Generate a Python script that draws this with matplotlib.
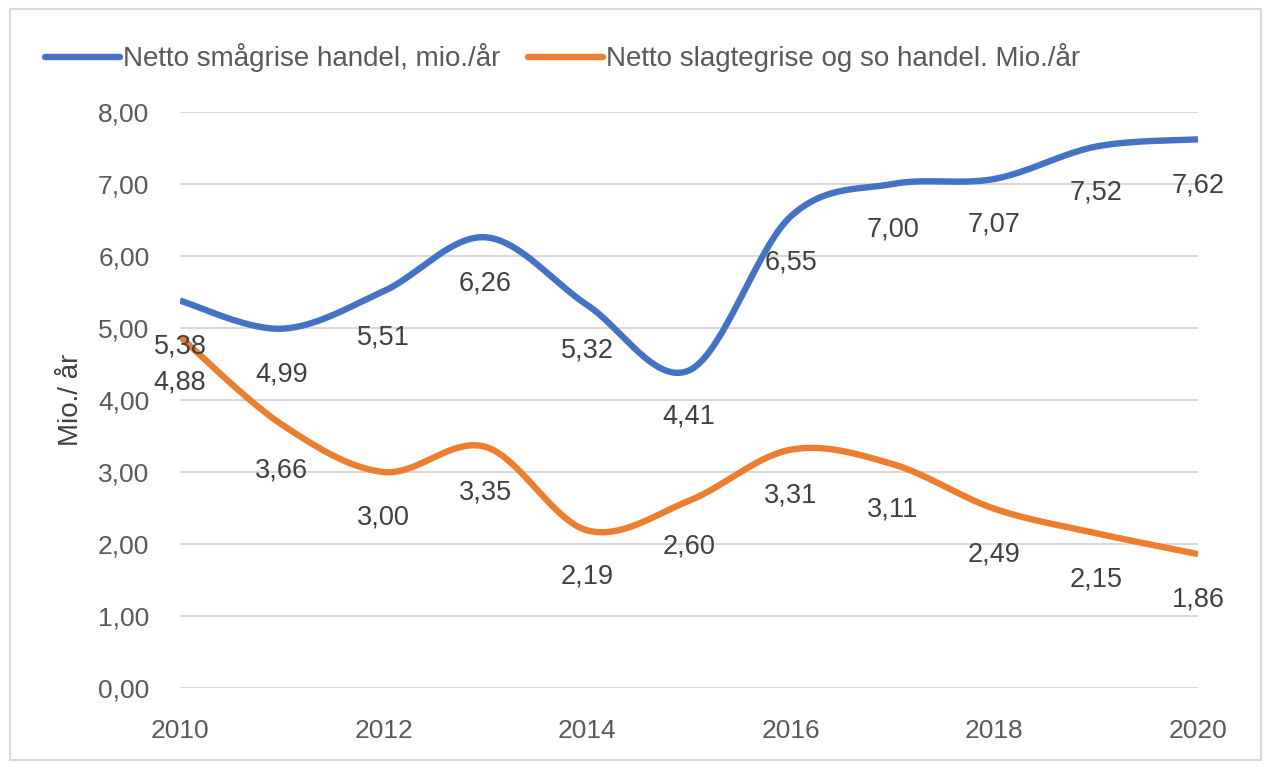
import numpy as np
import matplotlib.pyplot as plt
from matplotlib.patches import Rectangle
from matplotlib.ticker import FuncFormatter

plt.rcParams['font.family'] = ['Liberation Sans', 'DejaVu Sans']

years = [2010, 2011, 2012, 2013, 2014, 2015, 2016, 2017, 2018, 2019, 2020]
smaagrise = [5.38, 4.99, 5.51, 6.26, 5.32, 4.41, 6.55, 7.00, 7.07, 7.52, 7.62]
slagtegrise = [4.88, 3.66, 3.00, 3.35, 2.19, 2.60, 3.31, 3.11, 2.49, 2.15, 1.86]
names = ['Netto smågrise handel, mio./år', 'Netto slagtegrise og so handel. Mio./år']
colors = ['#4472C4', '#ED7D31']


def smooth(x, y, n=40):
    # excel style smoothing: bezier segments with catmull-rom control points
    x = np.asarray(x, float)
    y = np.asarray(y, float)
    px = np.concatenate([[x[0]], x, [x[-1]]])
    py = np.concatenate([[y[0]], y, [y[-1]]])
    xs, ys = [], []
    t = np.linspace(0, 1, n)
    for i in range(1, len(px) - 2):
        p0 = np.array([px[i], py[i]])
        p3 = np.array([px[i + 1], py[i + 1]])
        p1 = p0 + (p3 - np.array([px[i - 1], py[i - 1]])) / 6
        p2 = p3 - (np.array([px[i + 2], py[i + 2]]) - p0) / 6
        b = ((1 - t) ** 3)[:, None] * p0 + (3 * (1 - t) ** 2 * t)[:, None] * p1 \
            + (3 * (1 - t) * t ** 2)[:, None] * p2 + (t ** 3)[:, None] * p3
        xs.extend(b[:, 0])
        ys.extend(b[:, 1])
    return xs, ys


fig = plt.figure(figsize=(12.69, 7.66), dpi=100)
ax = fig.add_axes([0.1418, 0.1018, 0.8022, 0.752])

for vals, name, c in zip([smaagrise, slagtegrise], names, colors):
    sx, sy = smooth(years, vals)
    ax.plot(sx, sy, color=c, lw=4.6, solid_capstyle='butt', label=name)
    for xv, yv in zip(years, vals):
        ax.annotate(f'{yv:.2f}'.replace('.', ','), (xv, yv), xytext=(0, -33),
                    textcoords='offset points', ha='center', va='center',
                    fontsize=19.5, color='#404040')

ax.set_xlim(2010, 2020)
ax.set_ylim(0, 8)
ax.set_xticks(range(2010, 2021, 2))
ax.set_yticks(range(0, 9))
ax.yaxis.set_major_formatter(FuncFormatter(lambda v, p: f'{v:.2f}'.replace('.', ',')))
ax.grid(axis='y', color='#D9D9D9', lw=1.5)
ax.set_axisbelow(True)
for s in ax.spines.values():
    s.set_visible(False)
ax.tick_params(length=0, labelsize=19, labelcolor='#595959')
ax.tick_params(axis='y', pad=22)
ax.tick_params(axis='x', pad=22)
ax.set_ylabel('Mio./ år', fontsize=20, color='#404040', labelpad=10)

leg = fig.legend(*ax.get_legend_handles_labels(), loc='center left',
                 bbox_to_anchor=(45 / 1269, 1 - 58 / 766), bbox_transform=fig.transFigure,
                 ncol=2, frameon=False, fontsize=20, labelcolor='#595959',
                 handlelength=2.7, handletextpad=0.1, columnspacing=1.0,
                 borderpad=0, borderaxespad=0)
for h in leg.get_lines():
    h.set_solid_capstyle('round')

fig.patches.append(Rectangle((0.008, 0.008), 0.986, 0.98, transform=fig.transFigure,
                             fill=False, edgecolor='#D9D9D9', lw=1.5))

fig.savefig('out.png', dpi=100)
